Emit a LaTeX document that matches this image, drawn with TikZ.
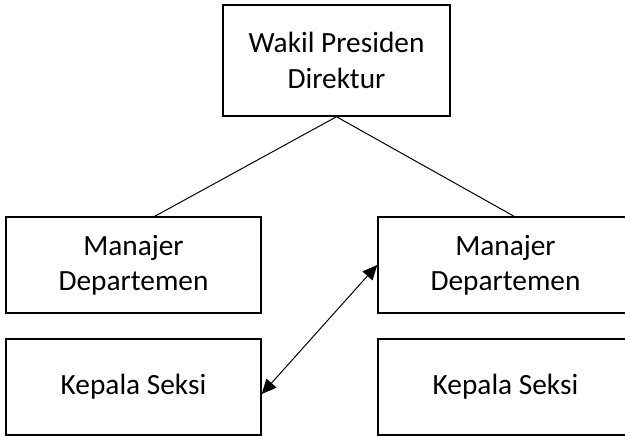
\documentclass[tikz,border=0pt]{standalone}
\usepackage{fontspec}
\setmainfont{Carlito}
\usetikzlibrary{arrows.meta}

\begin{document}
\begin{tikzpicture}[x=0.75pt,y=-0.75pt,
  jabatan/.style={draw,line width=1.1pt,align=center,inner sep=0pt,
    minimum width=191.25pt,minimum height=72pt,
    font=\fontsize{22}{26.5}\selectfont},
  garis/.style={line width=0.75pt}]
\useasboundingbox (0,0) rectangle (625,436);

\node[jabatan,minimum width=170.25pt,minimum height=83.25pt] (wpd) at (336.5,60.5) {Wakil Presiden\\Direktur};
\node[jabatan] (mgrL) at (133.5,265) {Manajer\\Departemen};
\node[jabatan] (mgrR) at (505.5,265) {Manajer\\Departemen};
\node[jabatan] (kasL) at (133.5,387) {Kepala Seksi};
\node[jabatan] (kasR) at (505.5,387) {Kepala Seksi};

\draw[garis] (wpd.south) -- ([xshift=16pt]mgrL.north);
\draw[garis] (wpd.south) -- ([xshift=6.4pt]mgrR.north);
\draw[garis,{Triangle[length=11pt,width=10pt]}-{Triangle[length=11pt,width=10pt]}] (mgrR.west) -- ([yshift=-5.25pt]kasL.east);
\end{tikzpicture}
\end{document}
